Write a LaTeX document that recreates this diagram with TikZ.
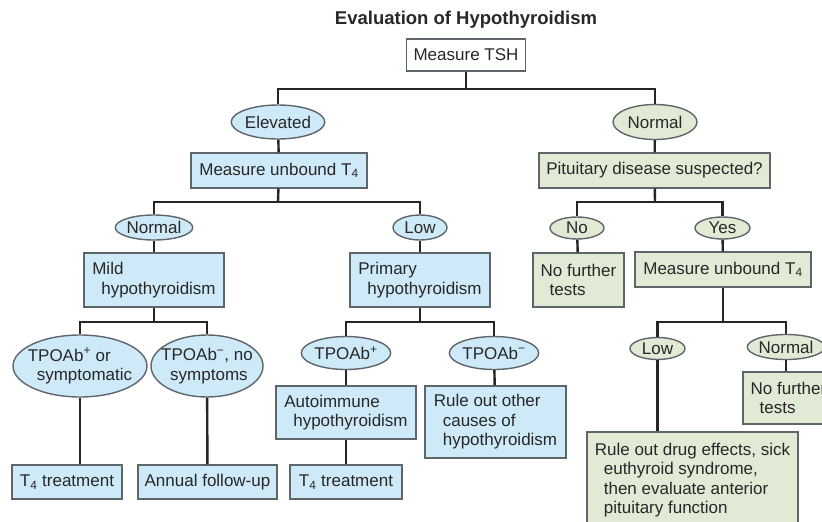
\documentclass[tikz,border=0pt]{standalone}
\usepackage{fontspec}
\setmainfont{Liberation Sans}
\usetikzlibrary{shapes.geometric}
\definecolor{hypoblue}{RGB}{206,233,247}
\definecolor{hypogreen}{RGB}{224,234,213}
\definecolor{boxedge}{RGB}{95,102,106}
\definecolor{inktext}{RGB}{40,40,40}
\newcommand{\lnind}{\hspace*{9pt}}

\begin{document}
\begin{tikzpicture}[x=1pt,y=-1pt,
  every node/.style={font=\fontsize{17}{19.5}\selectfont,text=inktext,inner sep=0pt},
  plainbox/.style={draw=boxedge,line width=1.4pt,fill=white,minimum width=#1},
  bluebox/.style={draw=boxedge,line width=1.4pt,fill=hypoblue,align=left,minimum width=#1},
  greenbox/.style={draw=boxedge,line width=1.4pt,fill=hypogreen,align=left,minimum width=#1},
  blueoval/.style={ellipse,draw=boxedge,line width=1.4pt,fill=hypoblue,align=left,minimum width=#1},
  greenoval/.style={ellipse,draw=boxedge,line width=1.4pt,fill=hypogreen,align=left,minimum width=#1},
  link/.style={line width=2.4pt,draw=black!85}]
  \useasboundingbox (0,0) rectangle (822,522);
  \clip (0,0) rectangle (822,522);

  \node[font=\fontsize{18.5}{22}\selectfont\bfseries] (title) at (466,20) {Evaluation of Hypothyroidism};
  \node[plainbox=119,minimum height=32] (tsh) at (466,55) {Measure TSH};

  % elevated branch
  \node[blueoval=83,minimum height=34] (elev) at (278,122) {Elevated};
  \node[bluebox=176,minimum height=35] (mta) at (279,170.5) {Measure unbound T\textsubscript{4}};
  \node[blueoval=73,minimum height=25] (nrma) at (154,227.5) {Normal};
  \node[blueoval=54,minimum height=25] (lowa) at (420,227.5) {Low};
  \node[bluebox=140,minimum height=54] (mild) at (154,280) {Mild\\\lnind hypothyroidism};
  \node[bluebox=140,minimum height=54] (prim) at (420,280) {Primary\\\lnind hypothyroidism};
  \node[blueoval=134,minimum height=62,inner xsep=-14pt] (tpa) at (80,366) {TPOAb\textsuperscript{+} or\\\lnind symptomatic};
  \node[blueoval=112,minimum height=62,inner xsep=-14pt] (tna) at (207,366) {TPOAb\textsuperscript{−}, no\\\lnind symptoms};
  \node[bluebox=110,minimum height=34] (tra) at (67,482) {T\textsubscript{4} treatment};
  \node[bluebox=139,minimum height=34] (ann) at (207.5,482) {Annual follow-up};
  \node[blueoval=82,minimum height=33] (tpb) at (346,353) {TPOAb\textsuperscript{+}};
  \node[blueoval=82,minimum height=33] (tnb) at (494,353) {TPOAb\textsuperscript{−}};
  \node[bluebox=140,minimum height=53] (auto) at (346,412.5) {Autoimmune\\\lnind hypothyroidism};
  \node[bluebox=112,minimum height=34] (trb) at (346,482) {T\textsubscript{4} treatment};
  \node[bluebox=141,minimum height=72] (other) at (495.5,422) {Rule out other\\\lnind causes of\\\lnind hypothyroidism};

  % normal branch
  \node[greenoval=84,minimum height=35] (nrmb) at (655,122) {Normal};
  \node[greenbox=231,minimum height=35] (pit) at (654.5,170.5) {Pituitary disease suspected?};
  \node[greenoval=54,minimum height=22] (no) at (577,228) {No};
  \node[greenoval=55,minimum height=22] (yes) at (722.5,228) {Yes};
  \node[greenbox=91,minimum height=54] (nfa) at (578.5,280) {No further\\\lnind tests};
  \node[greenbox=176,minimum height=35] (mtb) at (723,269.5) {Measure unbound T\textsubscript{4}};
  \node[greenoval=55,minimum height=22] (lowb) at (657.5,348.5) {Low};
  \node[greenoval=77,minimum height=25] (nrmc) at (786,347) {Normal};
  \node[greenbox=91,minimum height=52] (nfb) at (788.5,398) {No further\\\lnind tests};
  \node[greenbox=211,minimum height=96] (rule) at (692.5,480) {Rule out drug effects, sick\\\lnind euthyroid syndrome,\\\lnind then evaluate anterior\\\lnind pituitary function};

  \coordinate (j1) at (466,89);
  \coordinate (j2) at (278,202);
  \coordinate (j3) at (655,202);
  \coordinate (j4) at (154,322);
  \coordinate (j5) at (420,322);
  \coordinate (j6) at (723,322);

  \draw[link] (tsh) -- (j1);
  \draw[link] (elev) |- (j1) -| (nrmb);
  \draw[link] (elev) -- (mta);
  \draw[link] (mta) -- (j2);
  \draw[link] (nrma) |- (j2) -| (lowa);
  \draw[link] (nrma) -- (mild);
  \draw[link] (lowa) -- (prim);
  \draw[link] (mild) -- (j4);
  \draw[link] (tpa) |- (j4) -| (tna);
  \draw[link] (tpa.south) -- (tpa.south |- tra.north);
  \draw[link] (tna) -- (ann);
  \draw[link] (prim) -- (j5);
  \draw[link] (tpb) |- (j5) -| (tnb);
  \draw[link] (tpb) -- (auto);
  \draw[link] (auto) -- (trb);
  \draw[link] (tnb) -- (other);
  \draw[link] (nrmb) -- (pit);
  \draw[link] (pit) -- (j3);
  \draw[link] (no) |- (j3) -| (yes);
  \draw[link] (no) -- (nfa);
  \draw[link] (yes) -- (mtb);
  \draw[link] (mtb) -- (j6);
  \draw[link] (lowb) |- (j6) -| (nrmc);
  \draw[link] (nrmc.south) -- (nrmc.south |- nfb.north);
  \draw[link] (lowb.south) -- (lowb.south |- rule.north);
\end{tikzpicture}
\end{document}
